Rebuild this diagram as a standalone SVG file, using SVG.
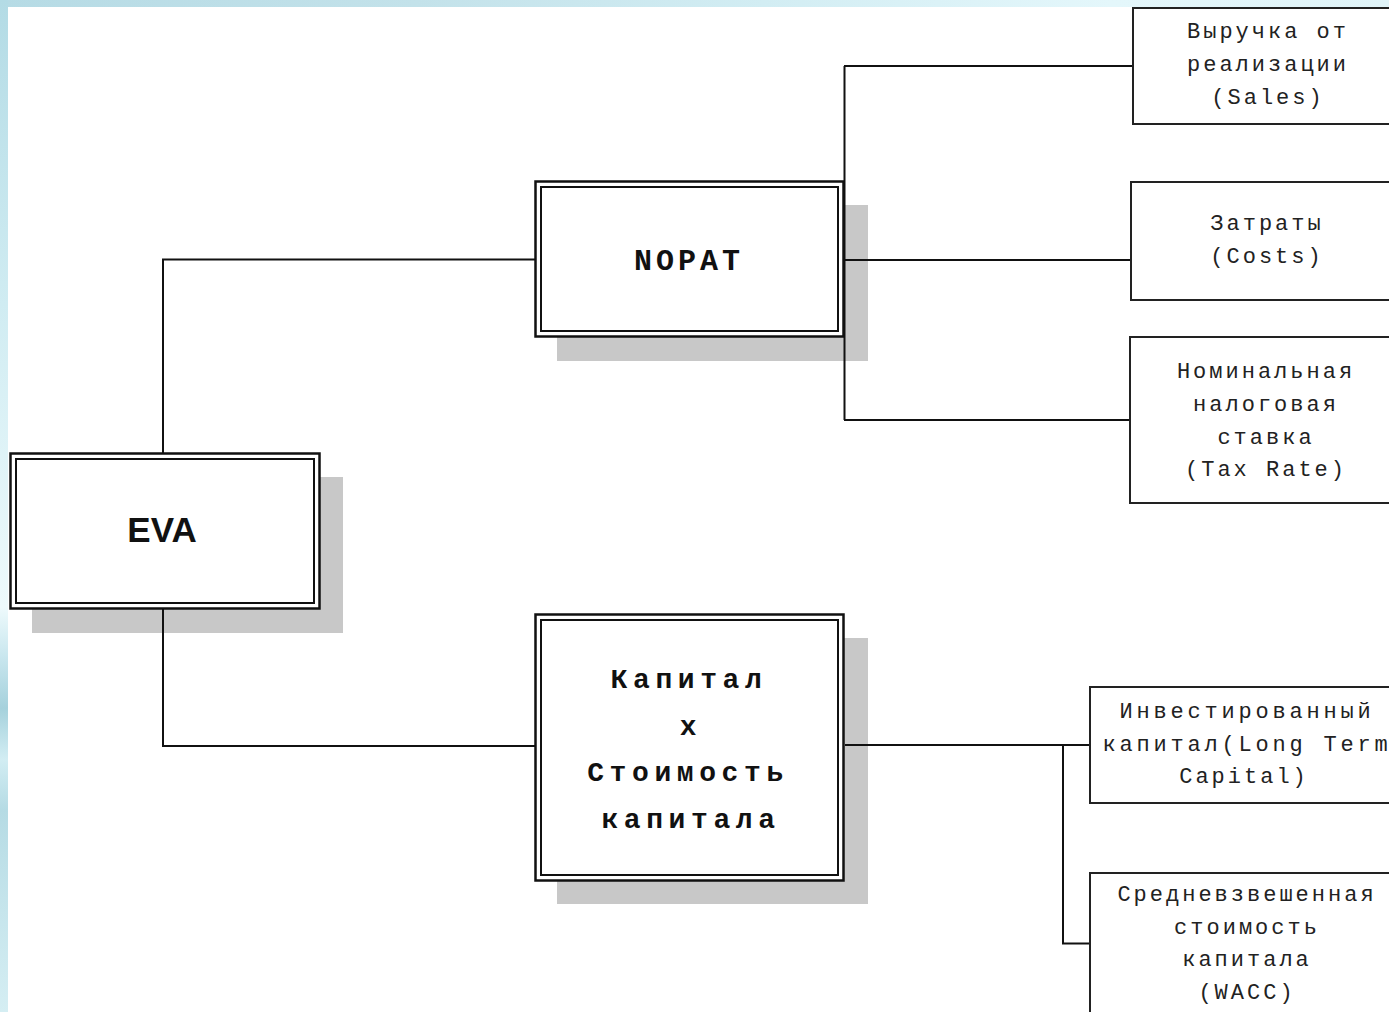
<svg xmlns="http://www.w3.org/2000/svg" width="1389" height="1012" viewBox="0 0 1389 1012">
<defs>
<linearGradient id="gTop" x1="0" y1="0" x2="1" y2="0">
<stop offset="0" stop-color="#b6dbe5"/>
<stop offset="0.3" stop-color="#c3e2ea"/>
<stop offset="0.55" stop-color="#d2edf3"/>
<stop offset="0.8" stop-color="#e4f7fb"/>
<stop offset="1" stop-color="#e0f4f8"/>
</linearGradient>
<linearGradient id="gLeft" x1="0" y1="0" x2="0" y2="1">
<stop offset="0" stop-color="#b3dbe5"/>
<stop offset="0.3" stop-color="#d0ecf2"/>
<stop offset="0.6" stop-color="#eefafc"/>
<stop offset="0.65" stop-color="#c8e6ee"/>
<stop offset="0.7" stop-color="#a5d1dc"/>
<stop offset="0.75" stop-color="#d2edf3"/>
<stop offset="0.8" stop-color="#b5dbe4"/>
<stop offset="0.9" stop-color="#c6e5ec"/>
<stop offset="1" stop-color="#d5eef3"/>
</linearGradient>
<style>
.shadow{fill:#c8c8c8;stroke:none}
.outer{fill:#fff;stroke:#111;stroke-width:2.5}
.inner{fill:none;stroke:#111;stroke-width:2}
.leaf{fill:#fff;stroke:#222;stroke-width:2}
.conn{fill:none;stroke:#111;stroke-width:2}
.big{font-family:"Liberation Mono","Courier New",monospace;font-weight:bold;font-size:28px;letter-spacing:5.6px;fill:#111;text-anchor:middle}
.nopat{font-family:"Liberation Mono","Courier New",monospace;font-weight:bold;font-size:30px;letter-spacing:4px;fill:#111;text-anchor:middle}
.small{font-family:"Liberation Mono","Courier New",monospace;font-size:22px;letter-spacing:3px;fill:#222;text-anchor:middle}
.wide{letter-spacing:3.8px}
.eva{font-family:"Liberation Sans",Arial,sans-serif;font-weight:bold;font-size:35px;fill:#111;text-anchor:middle}
</style>
</defs>
<rect x="0" y="0" width="1389" height="1012" fill="#fff"/>
<rect x="0" y="0" width="1389" height="7" fill="url(#gTop)"/>
<rect x="0" y="0" width="8" height="1012" fill="url(#gLeft)"/>

<g id="shadows">
<rect class="shadow" x="32" y="477" width="311" height="156"/>
<rect class="shadow" x="557" y="205" width="311" height="156"/>
<rect class="shadow" x="557" y="638" width="311" height="266"/>
</g>

<g id="connectors">
<polyline class="conn" points="163,453 163,259.5 535,259.5"/>
<polyline class="conn" points="163,609 163,746 535,746"/>
<line class="conn" x1="844.5" y1="66" x2="844.5" y2="420"/>
<line class="conn" x1="844" y1="66" x2="1132" y2="66"/>
<line class="conn" x1="844" y1="260" x2="1131" y2="260"/>
<line class="conn" x1="844" y1="420" x2="1130" y2="420"/>
<line class="conn" x1="845" y1="745" x2="1090" y2="745"/>
<polyline class="conn" points="1063,745 1063,943.5 1090,943.5"/>
</g>

<g id="eva">
<rect class="outer" x="10.5" y="453.5" width="309" height="155"/>
<rect class="inner" x="16" y="459" width="298" height="144"/>
<text class="eva" x="162" y="542">EVA</text>
</g>

<g id="nopat">
<rect class="outer" x="535.5" y="181.5" width="308" height="155"/>
<rect class="inner" x="541" y="187" width="297" height="144"/>
<text class="nopat" x="689" y="270">NOPAT</text>
</g>

<g id="capital">
<rect class="outer" x="535.5" y="614.5" width="308" height="266"/>
<rect class="inner" x="541" y="620" width="297" height="255"/>
<text class="big" x="689" y="688">Капитал</text>
<text class="big" x="691" y="735">x</text>
<text class="big" x="688" y="781">Стоимость</text>
<text class="big" x="691" y="828">капитала</text>
</g>

<g id="sales">
<rect class="leaf" x="1133" y="8" width="280" height="116"/>
<text class="small" x="1268" y="38">Выручка от</text>
<text class="small" x="1268" y="71">реализации</text>
<text class="small" x="1268" y="104">(Sales)</text>
</g>

<g id="costs">
<rect class="leaf" x="1131" y="182" width="280" height="118"/>
<text class="small" x="1267" y="230">Затраты</text>
<text class="small" x="1267" y="263">(Costs)</text>
</g>

<g id="tax">
<rect class="leaf" x="1130" y="337" width="280" height="166"/>
<text class="small" x="1266" y="378">Номинальная</text>
<text class="small" x="1266" y="411">налоговая</text>
<text class="small" x="1266" y="444">ставка</text>
<text class="small" x="1266" y="476">(Tax Rate)</text>
</g>

<g id="invested">
<rect class="leaf" x="1090" y="687" width="320" height="116"/>
<text class="small wide" x="1247" y="718">Инвестированный</text>
<text class="small wide" x="1247" y="751">капитал(Long Term</text>
<text class="small" x="1244" y="783">Capital)</text>
</g>

<g id="wacc">
<rect class="leaf" x="1090" y="873" width="320" height="160"/>
<text class="small" x="1247" y="901">Средневзвешенная</text>
<text class="small" x="1247" y="934">стоимость</text>
<text class="small" x="1247" y="966">капитала</text>
<text class="small" x="1247" y="999">(WACC)</text>
</g>
</svg>
